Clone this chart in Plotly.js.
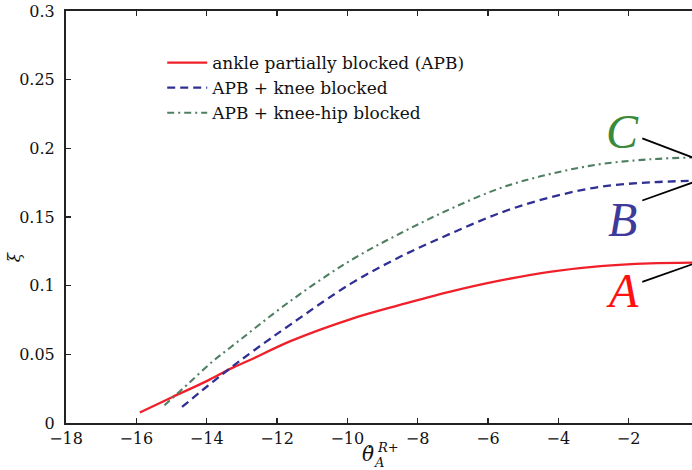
<!DOCTYPE html>
<html><head><meta charset="utf-8">
<script src="https://cdn.plot.ly/plotly-3.0.1.min.js"></script>
<style>html,body{margin:0;padding:0;overflow:hidden;background:#fff;width:692px;height:470px}#chart{width:720px;height:470px}</style>
</head><body><div id="chart"></div><script>
// Series (x = theta_dot_A^{R+}, y = xi)
const apbX = [-15.9, -15, -14, -13.3, -12.8, -11.6, -9.9, -8.5, -7.1, -5.6, -4.2, -2.8, -1.4, 0];
const apbY = [0.0076, 0.0186, 0.0305, 0.0398, 0.0455, 0.0598, 0.0757, 0.0860, 0.0955, 0.1040, 0.1102, 0.1142, 0.1162, 0.1168];
const kneeX = [-14.7, -14, -13.3, -12.7, -11.6, -9.9, -8.5, -7.1, -5.6, -4.2, -2.8, -1.4, 0];
const kneeY = [0.0117, 0.0264, 0.0405, 0.0520, 0.0720, 0.1015, 0.1210, 0.1375, 0.1535, 0.1645, 0.1720, 0.1752, 0.1765];
const hipX = [-15.2, -14.5, -13.8, -13.3, -11.6, -9.9, -8.5, -7.1, -5.6, -4.2, -2.8, -1.4, 0];
const hipY = [0.0129, 0.0292, 0.0455, 0.0555, 0.0892, 0.1185, 0.1380, 0.1555, 0.1715, 0.1815, 0.1885, 0.1920, 0.1935];
const seriesNames = ['ankle partially blocked (APB)', 'APB + knee blocked', 'APB + knee-hip blocked'];
const xTicks = [-18, -16, -14, -12, -10, -8, -6, -4, -2, 0];
const yTicks = [0, 0.05, 0.1, 0.15, 0.2, 0.25, 0.3];
const calloutLabels = ['A', 'B', 'C'];

const RED = '#f0202a', BLUE = '#2f2f94', GREEN = '#4f7f62';
const serif = 'DejaVu Serif';

const traces = [
  {x: apbX, y: apbY, name: seriesNames[0], mode: 'lines',
   line: {color: RED, width: 2.3, shape: 'spline', smoothing: 1}},
  {x: kneeX, y: kneeY, name: seriesNames[1], mode: 'lines',
   line: {color: BLUE, width: 2.3, dash: '8px,5px', shape: 'spline', smoothing: 1}},
  {x: hipX, y: hipY, name: seriesNames[2], mode: 'lines',
   line: {color: GREEN, width: 2.1, dash: '7px,4px,2px,4px', shape: 'spline', smoothing: 1}}
];

const axisCommon = {
  showgrid: false, zeroline: false, showline: true, linecolor: '#222', linewidth: 2,
  mirror: 'ticks', ticks: 'inside', ticklen: 5, tickwidth: 1.6, tickcolor: '#222',
  tickfont: {family: serif, size: 16, color: '#111'}
};

const letterFont = (c) => ({family: 'Liberation Serif', size: 48, color: c, style: 'italic'});
const PW = 633, PH = 411.7, L = 66, B = 422.7;
const px = (v) => (v - L) / PW, py = (v) => (B - v) / PH;
const note = (x, y, text, font, extra) => Object.assign({xref: 'paper', yref: 'paper', x: px(x), y: py(y), text: text,
  showarrow: false, xanchor: 'center', yanchor: 'middle', font: font}, extra || {});

const layout = {
  width: 720, height: 470,
  margin: {l: 66, r: 21, t: 11, b: 47, pad: 0},
  paper_bgcolor: '#fff', plot_bgcolor: '#fff',
  showlegend: true,
  legend: {x: 0.152, y: 0.9174, xanchor: 'left', yanchor: 'top', bgcolor: 'rgba(0,0,0,0)',
           borderwidth: 0, font: {family: serif, size: 17, color: '#111'}, itemwidth: 40},
  xaxis: Object.assign({}, axisCommon, {range: [-18, 0], tickvals: xTicks}),
  yaxis: Object.assign({}, axisCommon, {range: [0, 0.3], tickvals: yTicks, ticklabelstandoff: 6}),
  shapes: [
    {type: 'line', xref: 'x', yref: 'y', x0: -1.613, y0: 0.2073, x1: 0, y1: 0.1916, line: {color: '#000', width: 1.8}},
    {type: 'line', xref: 'x', yref: 'y', x0: -1.613, y0: 0.1620, x1: 0, y1: 0.1768, line: {color: '#000', width: 1.8}},
    {type: 'line', xref: 'x', yref: 'y', x0: -1.613, y0: 0.1028, x1: 0, y1: 0.1173, line: {color: '#000', width: 1.8}}
  ],
  annotations: [
    note(622, 290, calloutLabels[0], letterFont('#ff1010')),
    note(622, 219, calloutLabels[1], letterFont('#3d3a9c')),
    note(622, 131, calloutLabels[2], letterFont('#3a8a3a')),
    // axis titles
    note(368, 454, 'θ̇', {family: serif, size: 20, color: '#111', style: 'italic'}),
    note(388, 447, 'R+', {family: serif, size: 13, color: '#111', style: 'italic'}),
    note(379, 462, 'A', {family: serif, size: 13, color: '#111', style: 'italic'}),
    note(14, 257, 'ξ', {family: serif, size: 17, color: '#111', style: 'italic'}, {textangle: -90})
  ]
};

Plotly.newPlot('chart', traces, layout, {displayModeBar: false, staticPlot: true});
</script></body></html>
